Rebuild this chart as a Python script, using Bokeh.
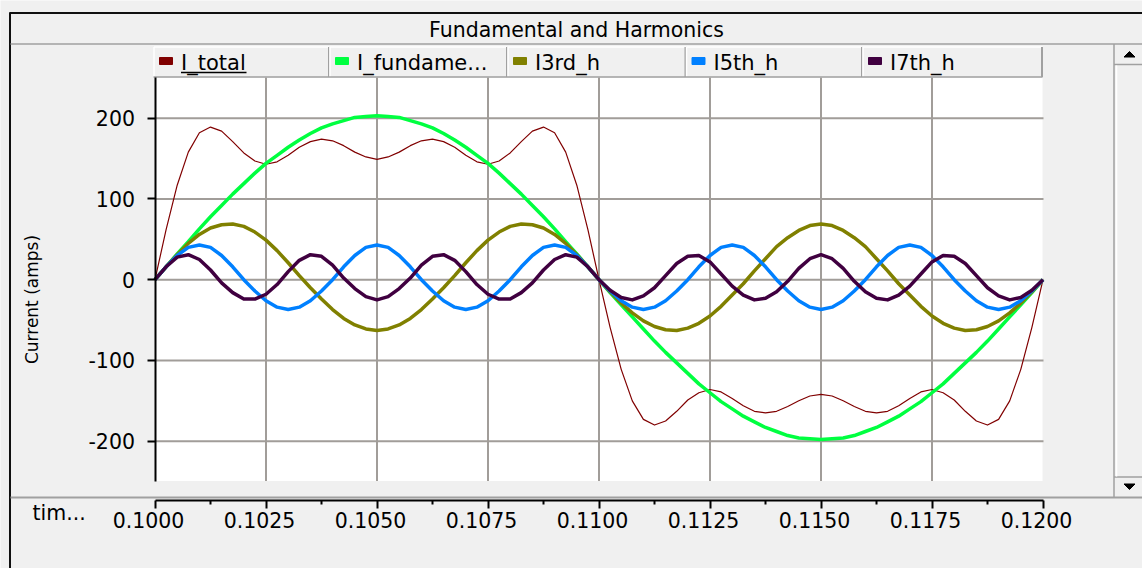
from bokeh.plotting import figure
from bokeh.models import Range1d, LinearAxis, FixedTicker, PrintfTickFormatter, CustomJSTickFormatter
from bokeh.core.properties import value
from bokeh.embed import file_html
from bokeh.resources import INLINE

# ---------------- data ----------------
t_start = 0.1
t_step = 0.00025
n_samples = 81
time = [round(t_start + i * t_step, 6) for i in range(n_samples)]

i_total = [0, 62, 117, 158, 182, 189, 184, 171, 157, 147, 143, 146, 154, 164, 171, 174, 172, 166, 158, 152, 149,
           152, 158, 166, 172, 174, 171, 164, 154, 146, 143, 147, 157, 171, 184, 189, 182, 158, 117, 62, 0,
           -59, -111, -150, -173, -180, -175, -163, -149, -140, -136, -139, -147, -156, -163, -165, -163, -157, -150, -144, -142,
           -144, -150, -157, -163, -165, -163, -156, -147, -139, -136, -140, -149, -163, -175, -180, -173, -150, -111, -59, 0]

i_fundamental = [0, 16, 32, 47, 63, 78, 92, 106, 119, 132, 144, 154, 164, 173, 181, 188, 193, 197, 201, 202, 203,
                 202, 201, 197, 193, 188, 181, 173, 164, 154, 144, 132, 119, 106, 92, 78, 63, 47, 32, 16, 0,
                 -16, -31, -46, -61, -76, -90, -103, -116, -129, -140, -151, -160, -169, -176, -183, -188, -193, -196, -197, -198,
                 -197, -196, -193, -188, -183, -176, -169, -160, -151, -140, -129, -116, -103, -90, -76, -61, -46, -31, -16, 0]

i_3rd = [0, 16, 31, 45, 56, 64, 68, 69, 66, 59, 49, 36, 21, 5, -10, -24, -37, -48, -56, -61, -63,
         -61, -56, -48, -37, -24, -10, 5, 21, 36, 49, 59, 66, 69, 68, 64, 56, 45, 31, 16, 0,
         -15, -29, -41, -51, -58, -62, -63, -60, -54, -45, -33, -19, -5, 11, 26, 41, 52, 61, 67, 69,
         67, 61, 52, 41, 26, 11, -5, -19, -33, -45, -54, -60, -63, -62, -58, -51, -41, -29, -15, 0]

i_5th = [0, 16, 30, 40, 43, 40, 30, 16, 0, -14, -26, -34, -37, -34, -26, -14,
         0, 16, 30, 40, 43, 40, 30, 16, 0, -14, -26, -34, -37, -34, -26, -14,
         0, 16, 30, 40, 43, 40, 30, 16, 0, -14, -26, -34, -37, -34, -26, -14,
         0, 16, 30, 40, 43, 40, 30, 16, 0, -14, -26, -34, -37, -34, -26, -14,
         0, 16, 30, 40, 43, 40, 30, 16, 0, -14, -26, -34, -37, -34, -26, -14, 0]

i_7th = [0, 16, 28, 31, 25, 12, -4, -16, -24, -24, -18, -6, 10, 24, 31, 29, 18, 2, -11, -21, -25,
         -21, -11, 2, 18, 29, 31, 24, 10, -6, -18, -24, -24, -16, -4, 12, 25, 31, 28, 16, 0,
         -13, -22, -25, -20, -10, 5, 20, 29, 30, 22, 7, -8, -19, -25, -23, -15, -2, 14, 26, 31,
         26, 14, -2, -15, -23, -25, -19, -8, 7, 22, 30, 29, 20, 5, -10, -20, -25, -22, -13, 0]

series_values = [i_total, i_fundamental, i_3rd, i_5th, i_7th]
series_names = ["I_total", "I_fundame...", "I3rd_h", "I5th_h", "I7th_h"]
series_colors = ["#800000", "#00ff40", "#808000", "#0080ff", "#400040"]
series_widths = [1.2, 3.5, 3.5, 3.5, 3.5]

y_ticks = [-200, -100, 0, 100, 200]
x_ticks = [0.1, 0.1025, 0.105, 0.1075, 0.11, 0.1125, 0.115, 0.1175, 0.12]
x_tick_labels = ["0.1000", "0.1025", "0.1050", "0.1075", "0.1100", "0.1125", "0.1150", "0.1175", "0.1200"]
x_minor_ticks = [0.10125, 0.10375, 0.10625, 0.10875, 0.11125, 0.11375, 0.11625, 0.11875]
title_text = "Fundamental and Harmonics"
y_label_text = "Current (amps)"
x_label_text = "tim..."

# ---------------- layout (pixels) ----------------
W, H = 1142, 568
X_T0_PX, X_T1_PX = 154.5, 1042.5      # pixel of t=0.100 and t=0.120
Y_P200_PX, Y_M200_PX = 117.7, 440.7   # pixel of +200 and -200
PLOT_L, PLOT_R, PLOT_T, PLOT_B = 155, 1042, 77, 480.5
XAXIS_PX = 500
BASE_FIX = 7.3                        # alphabetic baseline correction of text glyphs
FONT = value("DejaVu Sans")
BG = "#f0f0f0"
GRID = "#a19d99"
SEP = "#a0a0a0"

sx = (X_T1_PX - X_T0_PX) / (x_ticks[-1] - x_ticks[0])
x_start = x_ticks[0] - X_T0_PX / sx
x_end = x_ticks[0] + (W - X_T0_PX) / sx
sy = (Y_M200_PX - Y_P200_PX) / 400.0
y0px = Y_P200_PX + 200 * sy


def px_to_y(py):
    return (y0px - py) / sy


p = figure(width=W, height=H,
           x_range=Range1d(x_start, x_end), y_range=Range1d(px_to_y(H), px_to_y(0)),
           x_axis_location=None, y_axis_location=None,
           toolbar_location=None, output_backend="svg",
           min_border=0, min_border_left=0, min_border_right=0, min_border_top=0, min_border_bottom=0,
           background_fill_color=BG, border_fill_color=BG, outline_line_color=None)
p.xgrid.visible = False
p.ygrid.visible = False
p.extra_x_ranges = {"px": Range1d(0, W)}
p.extra_y_ranges = {"px": Range1d(H, 0)}
PX = dict(x_range_name="px", y_range_name="px")

# outer frame
p.segment(x0=[9, 9.5], y0=[12.5, 12], x1=[W, 9.5], y1=[12.5, H], line_color="#101010", line_width=2, **PX)
# title bar separator and title
p.segment(x0=[10], y0=[43.5], x1=[W], y1=[43.5], line_color=SEP, line_width=1.5, **PX)
p.text(x=[576], y=[36.5 - BASE_FIX], text=[title_text], text_font=FONT, text_font_size="20.5px",
       text_align="center", text_baseline="alphabetic", text_color="#000000", **PX)

# plot area
p.quad(left=[PLOT_L], right=[PLOT_R], top=[PLOT_T], bottom=[PLOT_B], fill_color="white", line_color=None, **PX)
inner_x = x_ticks[1:-1]
p.segment(x0=inner_x, y0=[PLOT_T] * len(inner_x), x1=inner_x, y1=[PLOT_B] * len(inner_x),
          line_color=GRID, line_width=2, y_range_name="px")
p.segment(x0=[PLOT_L] * len(y_ticks), y0=y_ticks, x1=[PLOT_R + 1] * len(y_ticks), y1=y_ticks,
          line_color=GRID, line_width=2, x_range_name="px")

# series
for vals, col, lw in zip(series_values, series_colors, series_widths):
    p.line(x=time, y=vals, line_color=col, line_width=lw, line_join="round")

# legend row
cell_edges = [153, 329, 507, 685.5, 862, 1042]
for i, (name, col) in enumerate(zip(series_names, series_colors)):
    l, r = cell_edges[i], cell_edges[i + 1]
    p.quad(left=[l], right=[r], top=[46.5], bottom=[76.5], fill_color=BG, line_color=None, **PX)
    p.segment(x0=[l + 0.5, l + 0.5], y0=[46.5, 46.5], x1=[r, l + 0.5], y1=[46.5, 76.5],
              line_color="#ffffff", line_width=1.5, **PX)
    p.segment(x0=[r - 0.5], y0=[46.5], x1=[r - 0.5], y1=[76.5], line_color=SEP, line_width=2, **PX)
    p.rect(x=[l + 12.5], y=[60.5], width=13, height=7, fill_color=col, line_color=col, line_width=1, **PX)
    p.text(x=[l + 27.5], y=[70 - BASE_FIX], text=[name], text_font=FONT, text_font_size="21px",
           text_align="left", text_baseline="alphabetic", text_color="#000000", **PX)
p.segment(x0=[180.5], y0=[72], x1=[246], y1=[72], line_color="#000000", line_width=1.5, **PX)
p.segment(x0=[153], y0=[76.5], x1=[1042], y1=[76.5], line_color=SEP, line_width=1.5, **PX)

# scrollbar
p.segment(x0=[1113.5, 1113.5, 1113.5, 1116], y0=[43.5, 64, 476.5, 65], x1=[1113.5, W, W, 1116],
          y1=[497, 64, 476.5, 476], line_color=[SEP, SEP, SEP, "#ffffff"], line_width=1.5, **PX)
p.patch(x=[1123.5, 1134.5, 1129], y=[56.5, 56.5, 51], fill_color="#000000", line_color="#000000", **PX)
p.patch(x=[1123.5, 1134.5, 1129], y=[483.5, 483.5, 489], fill_color="#000000", line_color="#000000", **PX)

# separator above the time axis
p.segment(x0=[10], y0=[497], x1=[W], y1=[497], line_color=SEP, line_width=2, **PX)

# axes
yaxis = LinearAxis(fixed_location=x_ticks[0], bounds=(px_to_y(PLOT_B), px_to_y(PLOT_T)),
                   ticker=FixedTicker(ticks=y_ticks),
                   formatter=PrintfTickFormatter(format="%d"),
                   axis_line_color="#000000", axis_line_width=2,
                   major_tick_line_color="#000000", major_tick_line_width=2,
                   major_tick_out=8, major_tick_in=0, minor_tick_line_color=None,
                   major_label_text_font="DejaVu Sans", major_label_text_font_size="20.5px",
                   major_label_text_color="#000000", major_label_standoff=12)
p.add_layout(yaxis, "left")

xaxis = LinearAxis(fixed_location=px_to_y(XAXIS_PX), bounds=(x_ticks[0], x_ticks[-1]),
                   ticker=FixedTicker(ticks=x_ticks, minor_ticks=x_minor_ticks),
                   formatter=CustomJSTickFormatter(code="return '';"),
                   axis_line_color="#000000", axis_line_width=2,
                   major_tick_line_color="#000000", major_tick_line_width=2,
                   minor_tick_line_color="#000000", minor_tick_line_width=2,
                   major_tick_out=8, major_tick_in=0, minor_tick_out=4, minor_tick_in=0,
                   major_label_text_font_size="0px")
p.add_layout(xaxis, "below")
# time tick labels (drawn on the time scale, nudged left like the original)
p.text(x=x_ticks, y=[527 - BASE_FIX] * len(x_ticks), text=x_tick_labels, x_offset=-6.5,
       text_font=FONT, text_font_size="20.5px", text_align="center", text_baseline="alphabetic",
       text_color="#000000", y_range_name="px")

# axis titles
p.text(x=[31.5], y=[299], text=[y_label_text], angle=1.5707963, text_font=FONT, text_font_size="17px",
       text_align="center", text_baseline="middle", text_color="#000000", **PX)
p.text(x=[32], y=[520 - BASE_FIX], text=[x_label_text], text_font=FONT, text_font_size="20.5px",
       text_align="left", text_baseline="alphabetic", text_color="#000000", **PX)

open("out.html", "w").write(file_html(p, INLINE))
